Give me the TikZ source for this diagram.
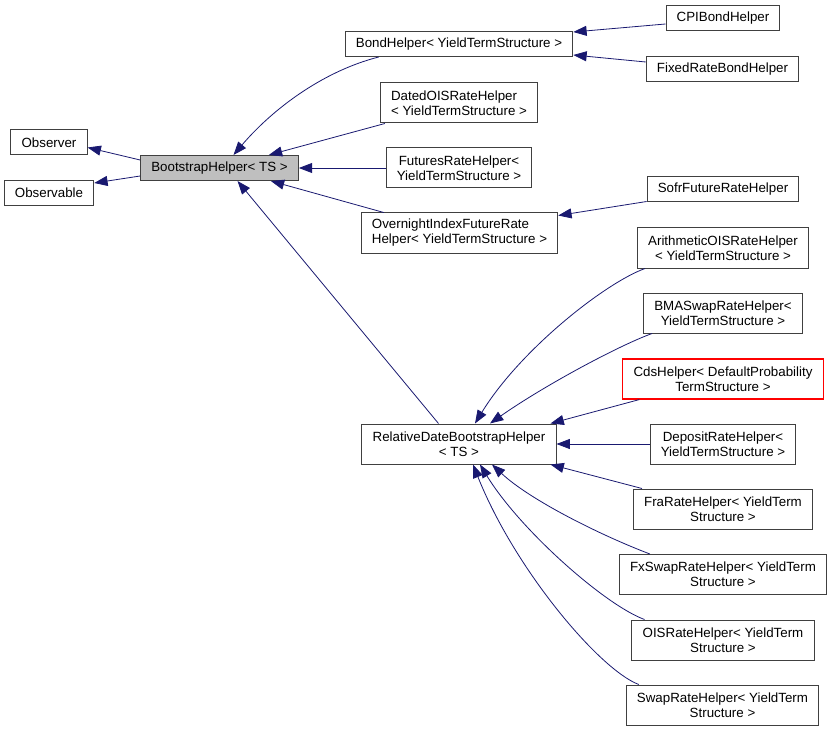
\documentclass[tikz,border=0pt]{standalone}
\usepackage{fontspec}
\setmainfont{Liberation Sans}
\usetikzlibrary{arrows.meta,calc}
\definecolor{edgeblue}{HTML}{191970}
\definecolor{boxgray}{HTML}{BFBFBF}

\begin{document}
\begin{tikzpicture}[x=0.75pt,y=-0.75pt,
cls/.style={draw=black!75,line width=0.75pt,fill=white,font=\fontsize{10}{11.25}\selectfont,inner xsep=8pt,inner ysep=2pt,minimum height=18.75pt,align=center},
two/.style={minimum height=30pt},
inh/.style={draw=edgeblue,line width=0.6pt,-{Triangle[length=10pt,width=7.5pt]}}]
\useasboundingbox (0,0) rectangle (832,731);
\node[cls] (observer) at (49,142.5) {Observer};
\node[cls] (observable) at (49,193) {Observable};
\node[cls,fill=boxgray] (boot) at (219.5,168) {BootstrapHelper< TS >};
\node[cls] (bond) at (459,44) {BondHelper< YieldTermStructure >};
\node[cls,two,align=left] (dated) at (459,103) {DatedOISRateHelper\\< YieldTermStructure >};
\node[cls,two] (futures) at (459,168) {FuturesRateHelper<\\YieldTermStructure >};
\node[cls,two,align=left] (overnight) at (459.5,233) {OvernightIndexFutureRate\\Helper< YieldTermStructure >};
\node[cls,two] (rel) at (459,444) {RelativeDateBootstrapHelper\\< TS >};
\node[cls] (cpi) at (723,18.5) {CPIBondHelper};
\node[cls] (fixed) at (722.5,69.5) {FixedRateBondHelper};
\node[cls] (sofr) at (723,189.5) {SofrFutureRateHelper};
\node[cls,two] (arith) at (723,248) {ArithmeticOISRateHelper\\< YieldTermStructure >};
\node[cls,two] (bma) at (723,313) {BMASwapRateHelper<\\YieldTermStructure >};
\node[cls,two,draw=red,line width=0.9pt] (cds) at (723,379) {CdsHelper< DefaultProbability\\TermStructure >};
\node[cls,two] (deposit) at (723,444) {DepositRateHelper<\\YieldTermStructure >};
\node[cls,two] (fra) at (723,509) {FraRateHelper< YieldTerm\\Structure >};
\node[cls,two] (fxswap) at (723,574.5) {FxSwapRateHelper< YieldTerm\\Structure >};
\node[cls,two] (ois) at (723,640) {OISRateHelper< YieldTerm\\Structure >};
\node[cls,two] (swap) at (722.5,705) {SwapRateHelper< YieldTerm\\Structure >};
\draw[inh] ($(boot.west)+(0,-8)$) -- ($(observer.east)+(0,5)$);
\draw[inh] ($(boot.west)+(0,8)$) -- ($(observable.east)+(0,-10)$);
\draw[inh] ($(bond.south west)+(34,0)$) .. controls (320,72) and (270,112) .. ($(boot.north)+(14,0)$);
\draw[inh] ($(dated.south west)+(5,0)$) -- ($(boot.north east)+(-30,0)$);
\draw[inh] (futures.west) -- (boot.east);
\draw[inh] ($(overnight.north west)+(23,0)$) -- ($(boot.south east)+(-28,0)$);
\draw[inh] ($(rel.north west)+(77,0)$) -- ($(boot.south)+(18,0)$);
\draw[inh] ($(cpi.west)+(0,5.5)$) -- ($(bond.east)+(0,-12)$);
\draw[inh] ($(fixed.west)+(0,-7.5)$) -- ($(bond.east)+(0,11)$);
\draw[inh] ($(sofr.south west)+(0,-1)$) -- ($(overnight.north east)+(0,3)$);
\draw[inh] ($(arith.south west)+(8,0)$) .. controls (605,283) and (520,350) .. ($(rel.north)+(16,0)$);
\draw[inh] ($(bma.south west)+(9,0)$) .. controls (620,345) and (545,385) .. ($(rel.north)+(31,0)$);
\draw[inh] ($(cds.south west)+(17,0)$) -- ($(rel.north east)+(-6,0)$);
\draw[inh] (deposit.west) -- (rel.east);
\draw[inh] ($(fra.north west)+(9,0)$) -- ($(rel.south east)+(-6,0)$);
\draw[inh] ($(fxswap.north west)+(31,0)$) .. controls (600,535) and (530,500) .. ($(rel.south)+(33,0)$);
\draw[inh] ($(ois.north west)+(13,0)$) .. controls (605,605) and (520,530) .. ($(rel.south)+(21,0)$);
\draw[inh] ($(swap.north west)+(13,0)$) .. controls (600,670) and (515,570) .. ($(rel.south)+(14,0)$);
\end{tikzpicture}
\end{document}
